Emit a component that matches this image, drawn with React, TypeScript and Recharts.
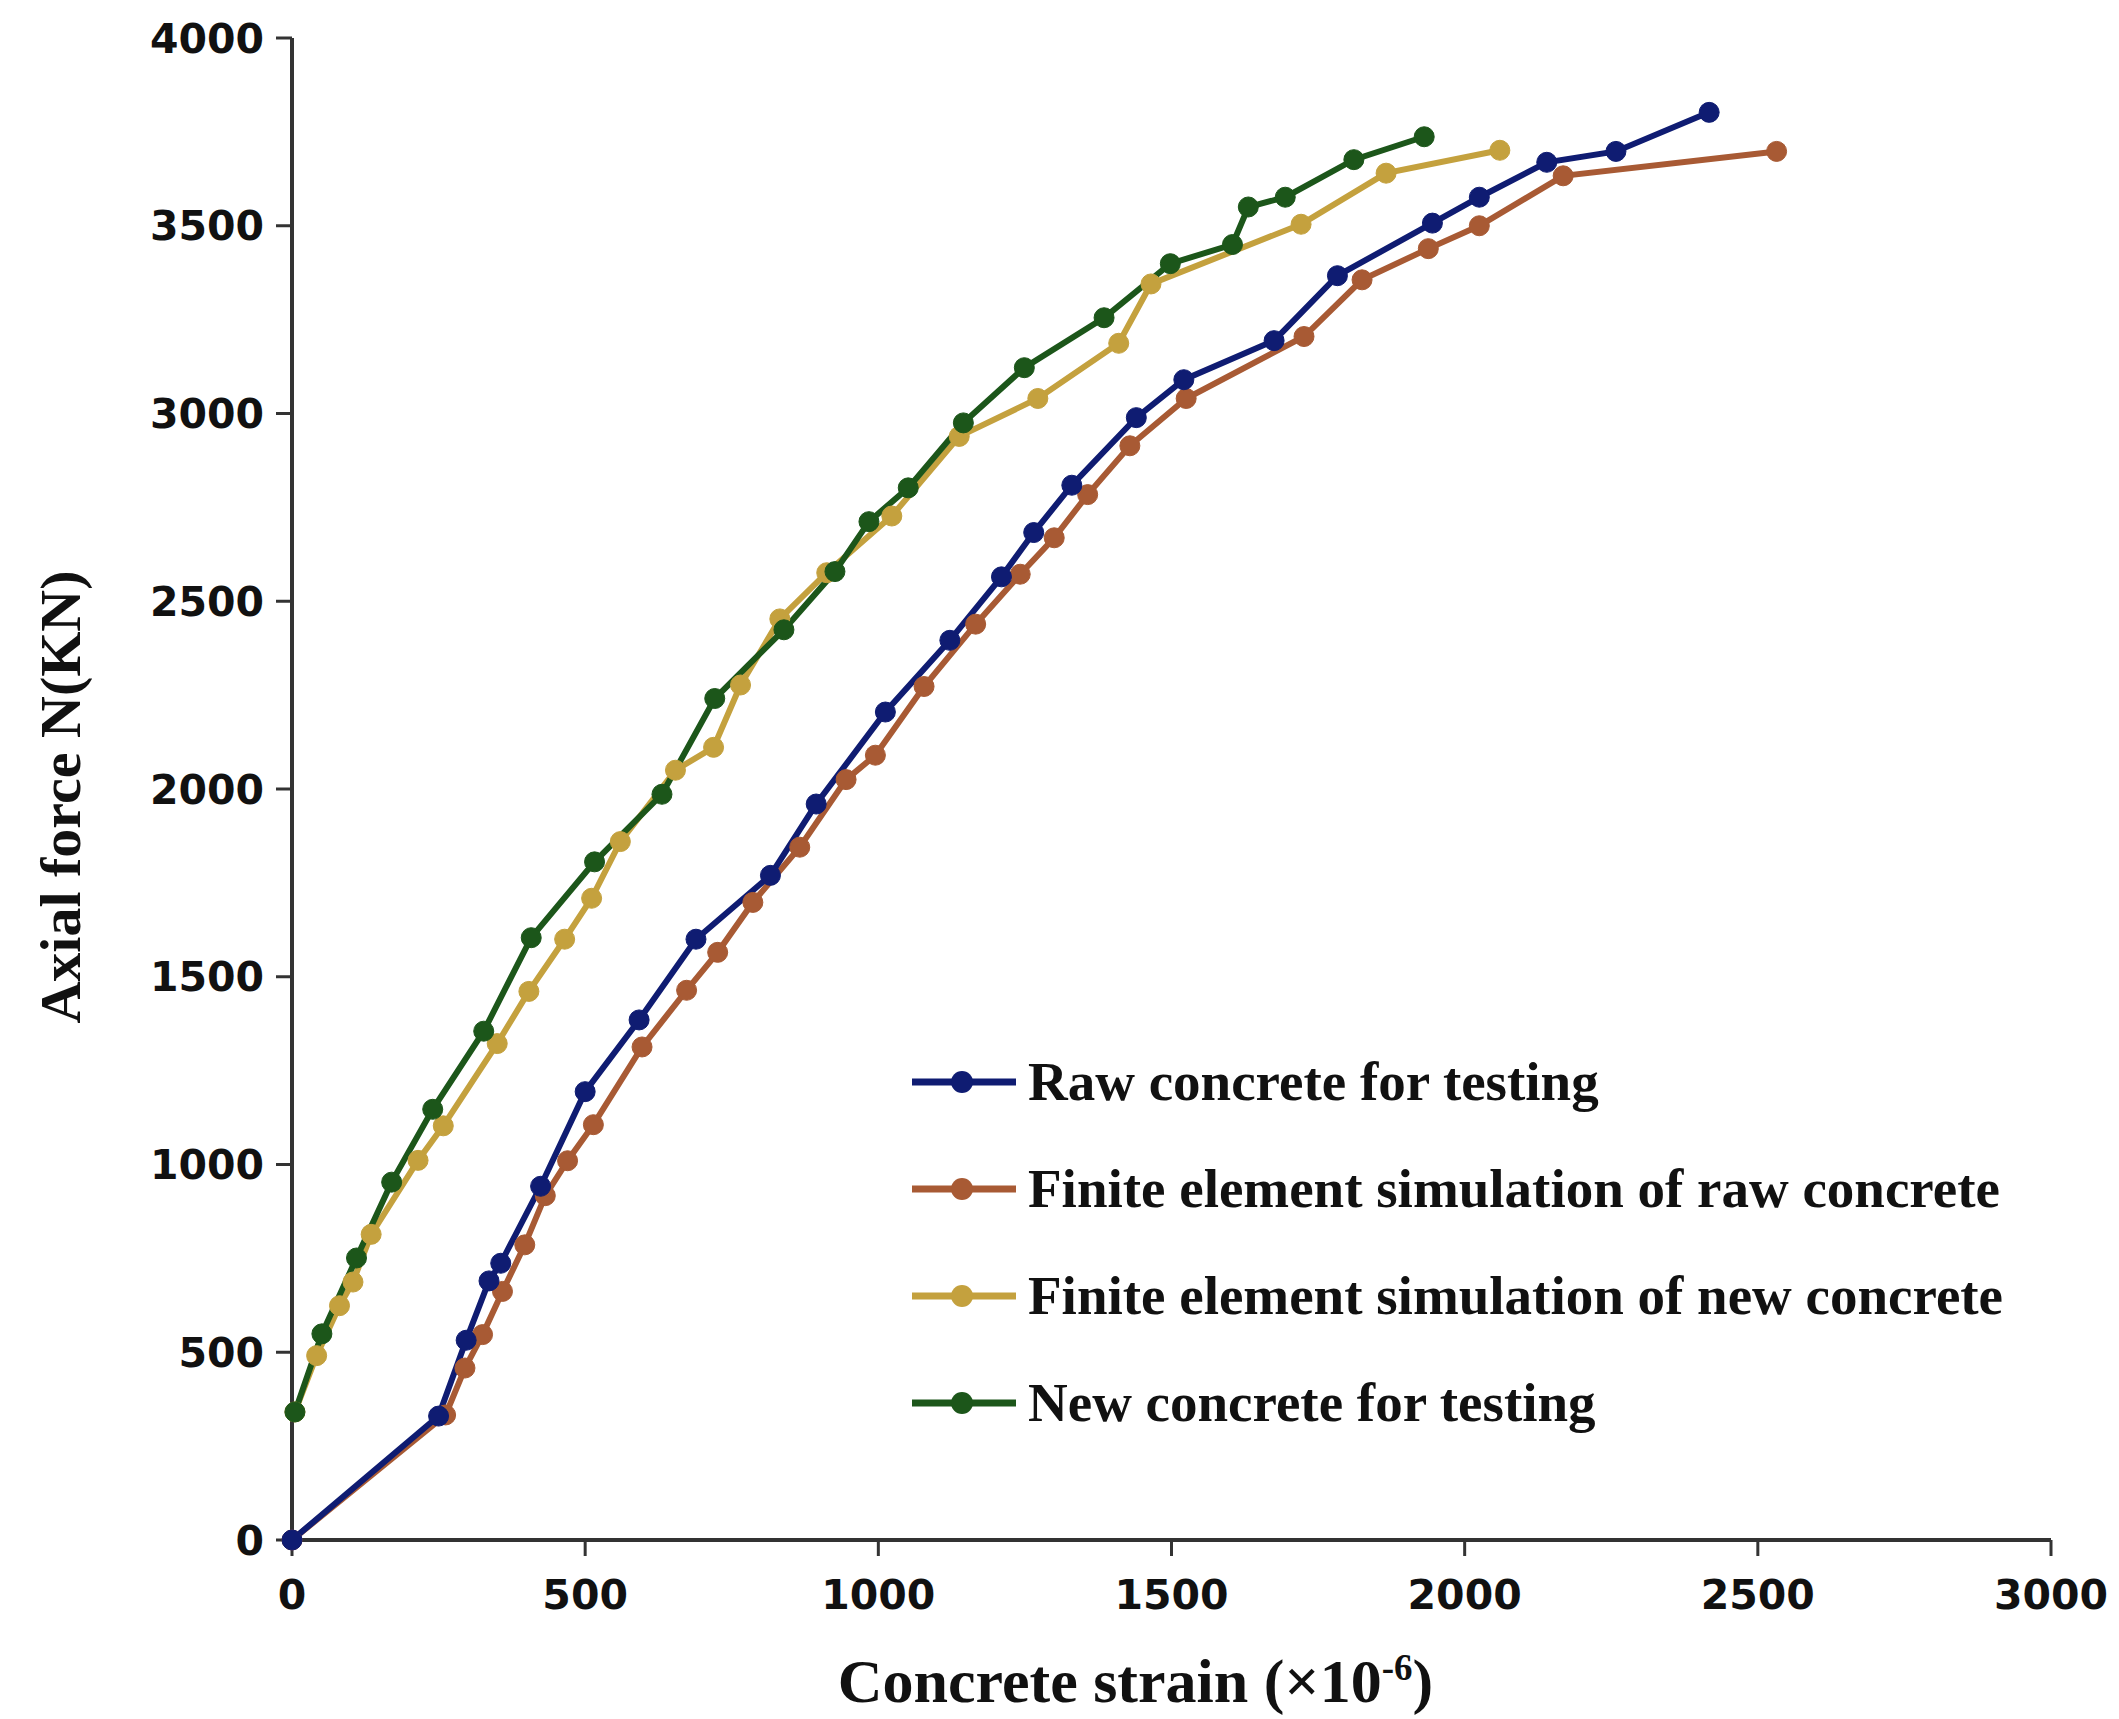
import { LineChart, Line, XAxis, YAxis, Legend, Label } from 'recharts'

// Raw concrete for testing
const rawTestX = [0, 250, 297, 336, 356, 424, 500, 592, 689, 816, 894, 1012, 1122, 1210, 1265, 1330, 1440, 1521, 1675, 1783, 1945, 2025, 2140, 2258, 2417]
const rawTestY = [0, 330, 532, 690, 737, 942, 1194, 1385, 1600, 1770, 1960, 2205, 2396, 2565, 2683, 2809, 2989, 3090, 3194, 3367, 3507, 3576, 3669, 3698, 3802]

// Finite element simulation of raw concrete
const rawFeX = [0, 262, 295, 325, 359, 397, 432, 470, 514, 597, 673, 726, 786, 866, 945, 995, 1078, 1166, 1242, 1300, 1357, 1429, 1525, 1726, 1825, 1938, 2025, 2168, 2532]
const rawFeY = [0, 333, 458, 547, 662, 786, 917, 1010, 1106, 1313, 1464, 1565, 1698, 1845, 2025, 2090, 2273, 2439, 2572, 2669, 2784, 2914, 3040, 3205, 3356, 3439, 3500, 3633, 3698]

// Finite element simulation of new concrete
const newFeX = [5, 42, 81, 104, 135, 215, 258, 350, 404, 465, 511, 560, 654, 719, 765, 832, 912, 1023, 1138, 1272, 1410, 1465, 1721, 1866, 2060]
const newFeY = [341, 491, 624, 687, 814, 1011, 1103, 1322, 1461, 1600, 1709, 1860, 2050, 2111, 2277, 2453, 2576, 2727, 2939, 3040, 3187, 3345, 3504, 3640, 3701]

// New concrete for testing
const newTestX = [5, 51, 110, 170, 240, 327, 408, 516, 631, 721, 839, 926, 984, 1051, 1145, 1249, 1385, 1498, 1604, 1631, 1694, 1811, 1931]
const newTestY = [341, 549, 751, 953, 1147, 1355, 1604, 1806, 1986, 2241, 2424, 2579, 2712, 2802, 2975, 3122, 3255, 3399, 3450, 3550, 3576, 3676, 3737]

const xTicks = [0, 500, 1000, 1500, 2000, 2500, 3000]
const yTicks = [0, 500, 1000, 1500, 2000, 2500, 3000, 3500, 4000]

const toPoints = (xs: number[], ys: number[]) => xs.map((x, i) => ({ x, y: ys[i] }))

// legend order
const series = [
  { name: 'Raw concrete for testing', color: '#0f1c72', data: toPoints(rawTestX, rawTestY) },
  { name: 'Finite element simulation of raw concrete', color: '#a85a34', data: toPoints(rawFeX, rawFeY) },
  { name: 'Finite element simulation of new concrete', color: '#c4a13e', data: toPoints(newFeX, newFeY) },
  { name: 'New concrete for testing', color: '#1c561a', data: toPoints(newTestX, newTestY) },
]
// draw order: brown under blue, yellow under green
const drawOrder = [1, 0, 2, 3]

const tickStyle = { fontFamily: 'DejaVu Sans', fontWeight: 700, fontSize: 41, fill: '#111' }
const titleFont = 'Liberation Serif'

function renderLegend() {
  return (
    <div style={{ display: 'flex', flexDirection: 'column' }}>
      {series.map((s) => (
        <div key={s.name} style={{ display: 'flex', alignItems: 'center', height: 107 }}>
          <svg width={104} height={26}>
            <line x1={0} y1={13} x2={104} y2={13} stroke={s.color} strokeWidth={7} />
            <circle cx={50} cy={13} r={11} fill={s.color} />
          </svg>
          <span style={{ marginLeft: 12, fontFamily: titleFont, fontWeight: 700, fontSize: 55, color: '#111', whiteSpace: 'nowrap' }}>
            {s.name}
          </span>
        </div>
      ))}
    </div>
  )
}

export default function App() {
  return (
    <LineChart width={2111} height={1711} margin={{ top: 30, right: 68, bottom: 79, left: 84 }}>
      <XAxis
        dataKey="x"
        type="number"
        domain={[0, 3000]}
        ticks={xTicks}
        allowDuplicatedCategory={false}
        tick={tickStyle}
        tickSize={16}
        tickMargin={24}
        height={100}
        axisLine={{ stroke: '#333', strokeWidth: 4 }}
        tickLine={{ stroke: '#333', strokeWidth: 3 }}
      >
        <Label
          content={(props: any) => {
            const vb = props.viewBox
            return (
              <text x={vb.x + vb.width / 2 - 36} y={1694} textAnchor="middle" fontFamily={titleFont} fontWeight={700} fontSize={62} fill="#111">
                Concrete strain (×10<tspan dy={-22} fontSize={37}>-6</tspan><tspan dy={22}>)</tspan>
              </text>
            )
          }}
        />
      </XAxis>
      <YAxis
        dataKey="y"
        type="number"
        domain={[0, 4000]}
        ticks={yTicks}
        tick={tickStyle}
        tickSize={16}
        tickMargin={12}
        width={200}
        axisLine={{ stroke: '#333', strokeWidth: 4 }}
        tickLine={{ stroke: '#333', strokeWidth: 3 }}
      >
        <Label
          content={() => (
            <text x={0} y={0} transform="translate(72 789) rotate(-90)" textAnchor="middle" fontFamily={titleFont} fontWeight={700} fontSize={58} fill="#111">
              Axial force N(KN)
            </text>
          )}
        />
      </YAxis>
      <Legend
        layout="vertical"
        align="center"
        verticalAlign="middle"
        content={renderLegend}
        wrapperStyle={{ left: 904, top: 1020, width: 'auto' }}
      />
      {drawOrder.map((i) => {
        const s = series[i]
        return (
          <Line
            key={s.name}
            data={s.data}
            dataKey="y"
            name={s.name}
            type="linear"
            stroke={s.color}
            strokeWidth={6}
            dot={{ r: 10, fill: s.color, stroke: s.color, strokeWidth: 1 }}
            activeDot={false}
            isAnimationActive={false}
          />
        )
      })}
    </LineChart>
  )
}
